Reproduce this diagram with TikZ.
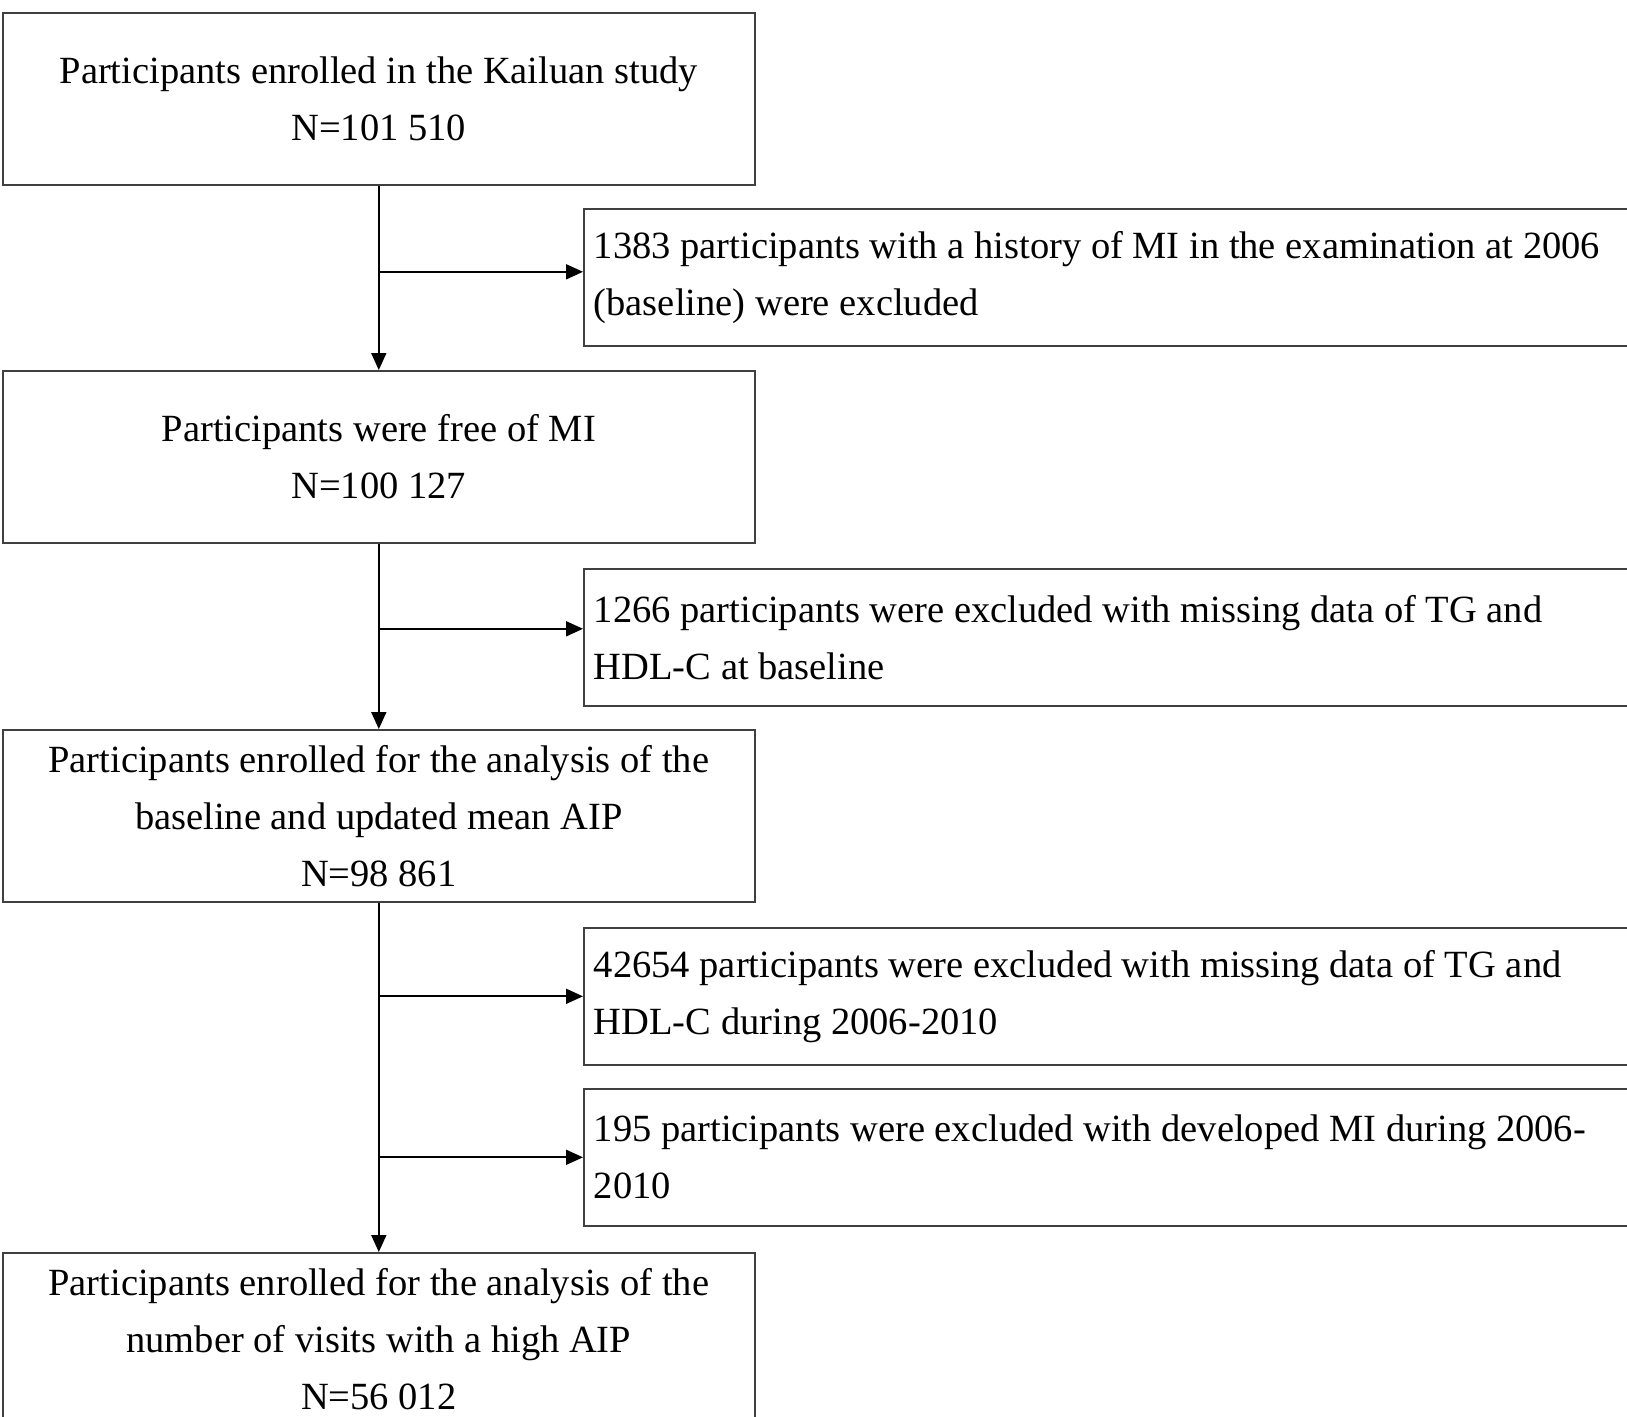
\documentclass[tikz,border=0pt]{standalone}
\usepackage{fontspec}
\setmainfont{Liberation Serif}
\usetikzlibrary{arrows.meta}
\begin{document}
\begin{tikzpicture}[x=1pt,y=-1pt,
  boxline/.style={draw=black!75, line width=1.6pt},
  mainbox/.style={boxline, rectangle, inner sep=0pt, minimum width=752pt, minimum height=172pt, align=center, anchor=north west, font=\fontsize{38.5}{57}\selectfont},
  sidebox/.style={boxline, rectangle, inner xsep=10pt, inner ysep=0pt, text width=1080pt, minimum height=137pt, align=flush left, anchor=north west, font=\fontsize{38.5}{57}\selectfont},
  arr/.style={line width=1.8pt, black, -{Triangle[length=17pt,width=15pt]}},
]
\useasboundingbox (0,0) rectangle (1627,1416);
\clip (0,0) rectangle (1627,1416);
\node[mainbox] (b1) at (2,12) {Participants enrolled in the Kailuan study\\N=101 510};
\node[mainbox] (b2) at (2,370) {Participants were free of MI\\N=100 127};
\node[mainbox] (b3) at (2,729) {Participants enrolled for the analysis of the\\baseline and updated mean AIP\\N=98 861};
\node[mainbox] (b4) at (2,1252) {Participants enrolled for the analysis of the\\number of visits with a high AIP\\N=56 012};
\node[sidebox] (r1) at (583,208) {1383 participants with a history of MI in the examination at 2006\\(baseline) were excluded};
\node[sidebox] (r2) at (583,568) {1266 participants were excluded with missing data of TG and\\HDL-C at baseline};
\node[sidebox] (r3) at (583,927) {42654 participants were excluded with missing data of TG and\\HDL-C during 2006-2010};
\node[sidebox] (r4) at (583,1088) {195 participants were excluded with developed MI during 2006-\\2010};
\coordinate (e1) at ([yshift=5.5pt]r1.west);
\coordinate (e2) at ([yshift=8.5pt]r2.west);
\draw[arr] (b1.south) -- (b2.north);
\draw[arr] (b2.south) -- (b3.north);
\draw[arr] (b3.south) -- (b4.north);
\draw[arr] (b1.south |- e1) -- (e1);
\draw[arr] (b2.south |- e2) -- (e2);
\draw[arr] (b3.south |- r3.west) -- (r3.west);
\draw[arr] (b3.south |- r4.west) -- (r4.west);
\end{tikzpicture}
\end{document}
